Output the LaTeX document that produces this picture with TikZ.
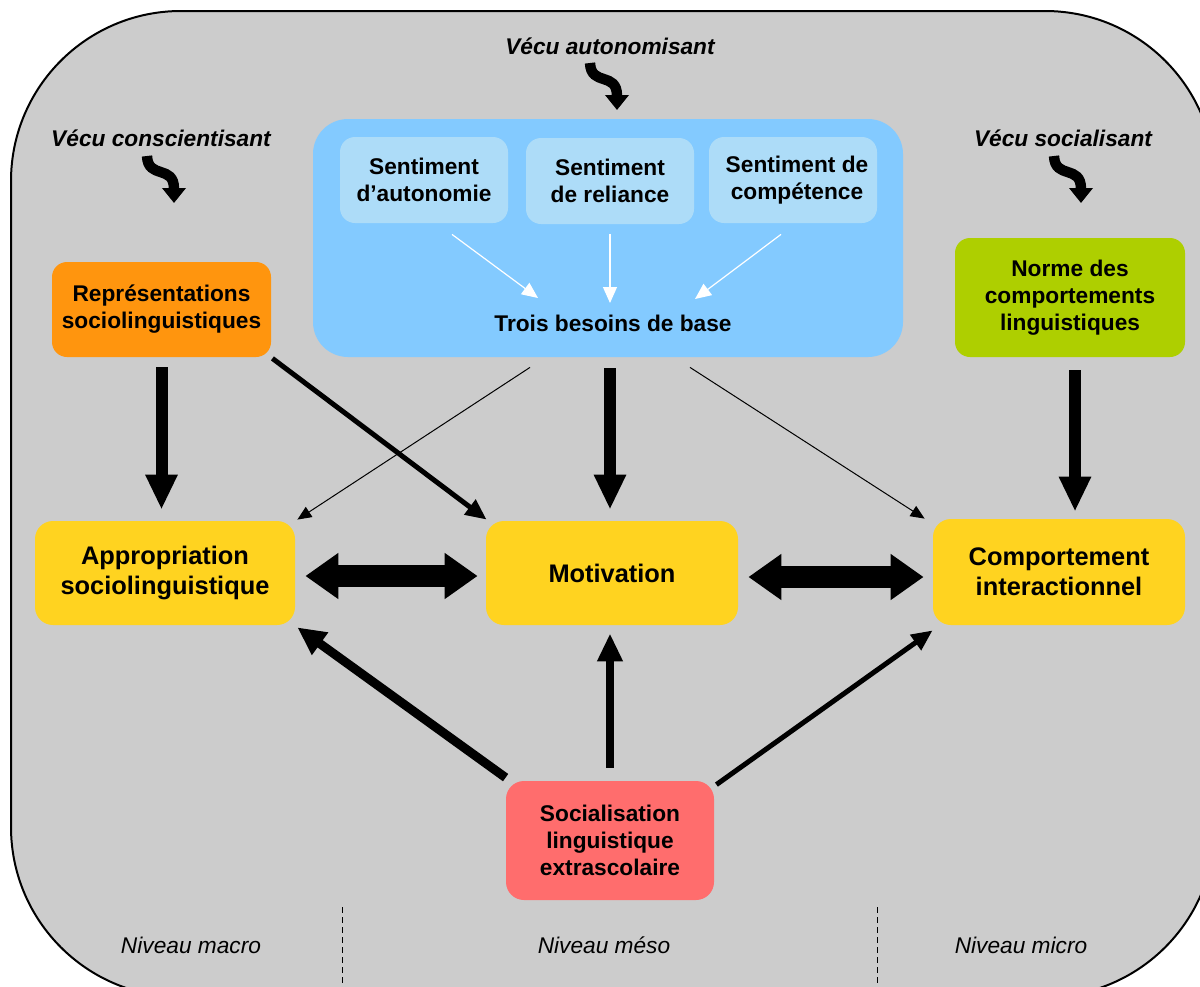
\documentclass[tikz,border=0pt]{standalone}
\usepackage{fontspec}
\setmainfont{Liberation Sans}
\usetikzlibrary{arrows.meta,calc}
\definecolor{bgray}{HTML}{CCCCCC}
\definecolor{bblue}{HTML}{83CAFF}
\definecolor{iblue}{HTML}{ADDCF8}
\definecolor{orng}{HTML}{FF950E}
\definecolor{grn}{HTML}{AECF00}
\definecolor{yel}{HTML}{FFD320}
\definecolor{rd}{HTML}{FF6D6D}
\begin{document}
\begin{tikzpicture}[x=0.5pt,y=-0.5pt,
  box/.style={rounded corners=7.5pt, inner sep=0pt, align=center,
    font=\bfseries\fontsize{11.35}{13.5}\selectfont},
  bigbox/.style={rounded corners=9pt, inner sep=0pt, align=center, fill=yel,
    font=\bfseries\fontsize{12.7}{15}\selectfont},
  vecu/.style={inner sep=0pt, font=\bfseries\itshape\fontsize{11.35}{13.5}\selectfont},
  niveau/.style={inner sep=0pt, font=\itshape\fontsize{11.35}{13.5}\selectfont},
  fat/.style={line width=6pt, -{Triangle[length=17.5pt,width=15pt]}},
  dbl/.style={line width=11pt, {Triangle[length=16.5pt,width=22pt]}-{Triangle[length=16.5pt,width=22pt]}},
  redA/.style={line width=4.5pt, -{Triangle[length=14pt,width=13pt]}},
  redB/.style={line width=4pt, -{Triangle[length=14pt,width=12pt]}},
  medA/.style={line width=2.5pt, -{Triangle[length=10.5pt,width=9pt]}},
  thinA/.style={line width=0.5pt, -{Triangle[length=7pt,width=6pt]}},
  whiteA/.style={white, line width=0.6pt, -{Triangle[length=8pt,width=7pt]}},
  curlyline/.style={line width=5.2pt, black, -{Triangle[length=7.5pt,width=11.5pt]}},
  curly/.pic={\draw[curlyline] (0,0) .. controls (1,24) and (27,8) .. (27,47);},
  divider/.style={line width=0.5pt, dash pattern=on 3pt off 2pt}
]
\useasboundingbox (0,0) rectangle (1200,986);
\begin{scope}
  \clip (0,0) rectangle (1200,986);
  \draw[line width=1pt, fill=bgray, rounded corners=85pt] (11,11) rectangle (1215,997);
\end{scope}

% top labels and curly arrows
\node[vecu] (va) at (610,46) {Vécu autonomisant};
\node[vecu] (vc) at (161,138) {Vécu conscientisant};
\node[vecu] (vs) at (1063,138) {Vécu socialisant};
\pic at (590,63) {curly};
\pic at (147,156) {curly};
\pic at (1054,156) {curly};

% blue group
\node[fill=bblue, rounded corners=17.5pt, minimum width=295pt, minimum height=119pt, inner sep=0pt] (besoins) at (608,238) {};
\node[box, fill=iblue, minimum width=84pt, minimum height=43pt] (s1) at (424,180) {Sentiment\\d’autonomie};
\node[box, fill=iblue, minimum width=84pt, minimum height=43pt] (s2) at (610,181) {Sentiment\\de reliance};
\node[box, fill=iblue, minimum width=84pt, minimum height=43pt] (s3) at (793,180) {\hspace*{4pt}Sentiment de\\\hspace*{4pt}compétence};
\node[inner sep=0pt, font=\bfseries\fontsize{11.35}{13.5}\selectfont] (trois) at (613,323) {Trois besoins de base};
\draw[whiteA] ($(s1.south)+(28,11)$) -- ($(trois.center)+(-75,-25)$);
\draw[whiteA] ($(s2.south)+(0,10)$) -- ($(trois.center)+(-3,-20)$);
\draw[whiteA] ($(s3.south)+(-12,11)$) -- ($(trois.center)+(82,-24)$);

% other boxes
\node[box, fill=orng, minimum width=109.5pt, minimum height=47.5pt] (rep) at (161.5,309.5) {Représentations\\sociolinguistiques};
\node[box, fill=grn, minimum width=115pt, minimum height=59.5pt] (norme) at (1070,297.5) {Norme des\\comportements\\linguistiques};
\node[bigbox, minimum width=130pt, minimum height=52pt] (appr) at (165,573) {\raisebox{-1.5pt}{Appropriation}\\\raisebox{-1.5pt}{sociolinguistique}};
\node[bigbox, minimum width=126pt, minimum height=52pt] (motiv) at (612,573) {\raisebox{-1.5pt}{Motivation}};
\node[bigbox, minimum width=126pt, minimum height=53pt] (comp) at (1059,572) {\raisebox{-1.5pt}{Comportement}\\\raisebox{-1.5pt}{interactionnel}};
\node[box, fill=rd, minimum width=104pt, minimum height=59.5pt, rounded corners=9pt] (soc) at (610,840.5) {\raisebox{-1.5pt}{Socialisation}\\\raisebox{-1.5pt}{linguistique}\\\raisebox{-1.5pt}{extrascolaire}};

% vertical fat arrows
\draw[fat] ($(rep.south)+(0,10)$) -- ($(rep.south |- appr.north)+(0,-11)$);
\draw[fat] ($(besoins.south)+(2,11)$) -- ($(besoins.south |- motiv.north)+(2,-11)$);
\draw[fat] ($(norme.south)+(5,13)$) -- ($(norme.south |- comp.north)+(5,-7)$);

% diagonal arrows from top
\draw[medA] ($(rep.south east)+(1,1)$) -- ($(motiv.north west)+(1,-1)$);
\draw[thinA] ($(besoins.south)+(-78,10)$) -- ($(appr.north east)+(2,-1)$);
\draw[thinA] ($(besoins.south)+(82,10)$) -- ($(comp.north west)+(-8,0)$);

% horizontal double arrows
\draw[dbl] ($(appr.east)+(10,3)$) -- ($(motiv.west)+(-8,3)$);
\draw[dbl] ($(motiv.east)+(10,4)$) -- ($(comp.west)+(-9,5)$);

% from socialisation
\draw[redA] ($(soc.north west)+(0,-3)$) -- ($(appr.south east)+(2,2)$);
\draw[redB] ($(soc.north)+(0,-13)$) -- ($(soc.north |- motiv.south)+(0,8)$);
\draw[medA] ($(soc.north east)+(2,4)$) -- ($(comp.south west)+(0,5)$);

% dividers and levels
\coordinate (d1t) at (342,907);
\coordinate (d1b) at (342,990);
\coordinate (d2t) at (877,907);
\coordinate (d2b) at (877,990);
\draw[divider] (d1t) -- (d1b);
\draw[divider] (d2t) -- (d2b);
\node[niveau] (nmacro) at (191,945) {Niveau macro};
\node[niveau] (nmeso) at (604,945) {Niveau méso};
\node[niveau] (nmicro) at (1021,945) {Niveau micro};
\end{tikzpicture}
\end{document}
